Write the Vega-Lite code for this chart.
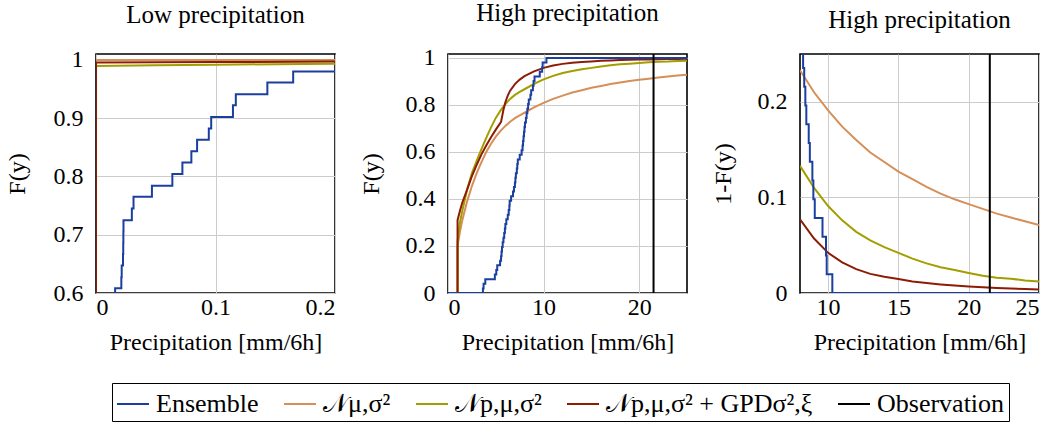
{
  "$schema": "https://vega.github.io/schema/vega-lite/v6.json",
  "padding": {"left": 4, "top": 0, "right": 0, "bottom": 0},
  "background": "white",
  "datasets": {
    "d": [
      {"p":"low","s":"ens","x":0,"y":0.588},{"p":"low","s":"ens","x":0.016,"y":0.608},{"p":"low","s":"ens","x":0.0212,"y":0.627},{"p":"low","s":"ens","x":0.0215,"y":0.647},{"p":"low","s":"ens","x":0.0226,"y":0.667},{"p":"low","s":"ens","x":0.0228,"y":0.686},{"p":"low","s":"ens","x":0.0229,"y":0.706},{"p":"low","s":"ens","x":0.023,"y":0.725},{"p":"low","s":"ens","x":0.030,"y":0.745},{"p":"low","s":"ens","x":0.0314,"y":0.765},{"p":"low","s":"ens","x":0.0468,"y":0.784},{"p":"low","s":"ens","x":0.0639,"y":0.804},{"p":"low","s":"ens","x":0.0723,"y":0.824},{"p":"low","s":"ens","x":0.0798,"y":0.843},{"p":"low","s":"ens","x":0.0846,"y":0.863},{"p":"low","s":"ens","x":0.0944,"y":0.882},{"p":"low","s":"ens","x":0.0964,"y":0.902},{"p":"low","s":"ens","x":0.1146,"y":0.922},{"p":"low","s":"ens","x":0.117,"y":0.941},{"p":"low","s":"ens","x":0.1434,"y":0.961},{"p":"low","s":"ens","x":0.165,"y":0.980},{"p":"low","s":"ens","x":0.2,"y":0.980},
      {"p":"low","s":"nmu","x":0,"y":0.5},{"p":"low","s":"nmu","x":0.00001,"y":0.9997},{"p":"low","s":"nmu","x":0.2,"y":0.9998},
      {"p":"low","s":"np","x":0,"y":0.5},{"p":"low","s":"np","x":0.00001,"y":0.9895},{"p":"low","s":"np","x":0.05,"y":0.9906},{"p":"low","s":"np","x":0.1,"y":0.9916},{"p":"low","s":"np","x":0.15,"y":0.9925},{"p":"low","s":"np","x":0.2,"y":0.9932},
      {"p":"low","s":"gpd","x":0,"y":0.5},{"p":"low","s":"gpd","x":0.00001,"y":0.9953},{"p":"low","s":"gpd","x":0.1,"y":0.9962},{"p":"low","s":"gpd","x":0.2,"y":0.997},

      {"p":"high","s":"ens","x":0,"y":0},{"p":"high","s":"ens","x":3.65,"y":0.0196},{"p":"high","s":"ens","x":3.72,"y":0.0392},{"p":"high","s":"ens","x":3.9,"y":0.0588},{"p":"high","s":"ens","x":4.9,"y":0.0784},{"p":"high","s":"ens","x":5.05,"y":0.098},{"p":"high","s":"ens","x":5.15,"y":0.1176},{"p":"high","s":"ens","x":5.45,"y":0.1373},{"p":"high","s":"ens","x":5.55,"y":0.1569},{"p":"high","s":"ens","x":5.6,"y":0.1765},{"p":"high","s":"ens","x":5.65,"y":0.1961},{"p":"high","s":"ens","x":5.72,"y":0.2157},{"p":"high","s":"ens","x":5.8,"y":0.2353},{"p":"high","s":"ens","x":5.88,"y":0.2549},{"p":"high","s":"ens","x":5.95,"y":0.2745},{"p":"high","s":"ens","x":6.0,"y":0.2941},{"p":"high","s":"ens","x":6.1,"y":0.3137},{"p":"high","s":"ens","x":6.25,"y":0.3333},{"p":"high","s":"ens","x":6.35,"y":0.3529},{"p":"high","s":"ens","x":6.42,"y":0.3725},{"p":"high","s":"ens","x":6.45,"y":0.3922},{"p":"high","s":"ens","x":6.6,"y":0.4118},{"p":"high","s":"ens","x":6.8,"y":0.4314},{"p":"high","s":"ens","x":6.9,"y":0.451},{"p":"high","s":"ens","x":7.0,"y":0.4706},{"p":"high","s":"ens","x":7.05,"y":0.4902},{"p":"high","s":"ens","x":7.1,"y":0.5098},{"p":"high","s":"ens","x":7.2,"y":0.5294},{"p":"high","s":"ens","x":7.25,"y":0.549},{"p":"high","s":"ens","x":7.3,"y":0.5686},{"p":"high","s":"ens","x":7.5,"y":0.5882},{"p":"high","s":"ens","x":7.7,"y":0.6078},{"p":"high","s":"ens","x":7.8,"y":0.6275},{"p":"high","s":"ens","x":7.85,"y":0.6471},{"p":"high","s":"ens","x":7.9,"y":0.6667},{"p":"high","s":"ens","x":7.95,"y":0.6863},{"p":"high","s":"ens","x":8.0,"y":0.7059},{"p":"high","s":"ens","x":8.05,"y":0.7255},{"p":"high","s":"ens","x":8.15,"y":0.7451},{"p":"high","s":"ens","x":8.22,"y":0.7647},{"p":"high","s":"ens","x":8.3,"y":0.7843},{"p":"high","s":"ens","x":8.38,"y":0.8039},{"p":"high","s":"ens","x":8.45,"y":0.8235},{"p":"high","s":"ens","x":8.62,"y":0.8431},{"p":"high","s":"ens","x":8.7,"y":0.8627},{"p":"high","s":"ens","x":8.88,"y":0.8824},{"p":"high","s":"ens","x":8.95,"y":0.902},{"p":"high","s":"ens","x":9.05,"y":0.9216},{"p":"high","s":"ens","x":9.6,"y":0.9412},{"p":"high","s":"ens","x":9.85,"y":0.9608},{"p":"high","s":"ens","x":9.9,"y":0.9804},{"p":"high","s":"ens","x":10.3,"y":1},{"p":"high","s":"ens","x":25,"y":1},

      {"p":"high","s":"nmu","x":0.999,"y":0},{"p":"high","s":"nmu","x":1,"y":0.2},{"p":"high","s":"nmu","x":1.25,"y":0.26},{"p":"high","s":"nmu","x":1.5,"y":0.31},{"p":"high","s":"nmu","x":2,"y":0.39},{"p":"high","s":"nmu","x":2.5,"y":0.455},{"p":"high","s":"nmu","x":3,"y":0.51},{"p":"high","s":"nmu","x":3.5,"y":0.557},{"p":"high","s":"nmu","x":4,"y":0.6},{"p":"high","s":"nmu","x":4.5,"y":0.635},{"p":"high","s":"nmu","x":5,"y":0.665},{"p":"high","s":"nmu","x":5.5,"y":0.69},{"p":"high","s":"nmu","x":6,"y":0.711},{"p":"high","s":"nmu","x":6.5,"y":0.729},{"p":"high","s":"nmu","x":7,"y":0.744},{"p":"high","s":"nmu","x":7.5,"y":0.756},{"p":"high","s":"nmu","x":8,"y":0.767},{"p":"high","s":"nmu","x":9,"y":0.79},{"p":"high","s":"nmu","x":10,"y":0.809},{"p":"high","s":"nmu","x":11,"y":0.826},{"p":"high","s":"nmu","x":12,"y":0.84},{"p":"high","s":"nmu","x":13,"y":0.853},{"p":"high","s":"nmu","x":14,"y":0.863},{"p":"high","s":"nmu","x":15,"y":0.873},{"p":"high","s":"nmu","x":16,"y":0.881},{"p":"high","s":"nmu","x":17,"y":0.889},{"p":"high","s":"nmu","x":18,"y":0.896},{"p":"high","s":"nmu","x":19,"y":0.902},{"p":"high","s":"nmu","x":20,"y":0.907},{"p":"high","s":"nmu","x":21,"y":0.912},{"p":"high","s":"nmu","x":22,"y":0.917},{"p":"high","s":"nmu","x":23,"y":0.921},{"p":"high","s":"nmu","x":24,"y":0.925},{"p":"high","s":"nmu","x":25,"y":0.929},

      {"p":"high","s":"np","x":0.999,"y":0},{"p":"high","s":"np","x":1,"y":0.22},{"p":"high","s":"np","x":1.25,"y":0.3},{"p":"high","s":"np","x":1.5,"y":0.35},{"p":"high","s":"np","x":2,"y":0.44},{"p":"high","s":"np","x":2.5,"y":0.51},{"p":"high","s":"np","x":3,"y":0.562},{"p":"high","s":"np","x":3.5,"y":0.612},{"p":"high","s":"np","x":4,"y":0.66},{"p":"high","s":"np","x":4.5,"y":0.705},{"p":"high","s":"np","x":5,"y":0.745},{"p":"high","s":"np","x":5.5,"y":0.777},{"p":"high","s":"np","x":6,"y":0.804},{"p":"high","s":"np","x":6.5,"y":0.826},{"p":"high","s":"np","x":7,"y":0.843},{"p":"high","s":"np","x":7.5,"y":0.856},{"p":"high","s":"np","x":8,"y":0.867},{"p":"high","s":"np","x":9,"y":0.89},{"p":"high","s":"np","x":10,"y":0.909},{"p":"high","s":"np","x":11,"y":0.924},{"p":"high","s":"np","x":12,"y":0.936},{"p":"high","s":"np","x":13,"y":0.945},{"p":"high","s":"np","x":14,"y":0.952},{"p":"high","s":"np","x":15,"y":0.958},{"p":"high","s":"np","x":16,"y":0.964},{"p":"high","s":"np","x":17,"y":0.969},{"p":"high","s":"np","x":18,"y":0.973},{"p":"high","s":"np","x":19,"y":0.976},{"p":"high","s":"np","x":20,"y":0.979},{"p":"high","s":"np","x":21,"y":0.982},{"p":"high","s":"np","x":22,"y":0.984},{"p":"high","s":"np","x":23,"y":0.985},{"p":"high","s":"np","x":24,"y":0.987},{"p":"high","s":"np","x":25,"y":0.988},

      {"p":"high","s":"gpd","x":0.999,"y":0},{"p":"high","s":"gpd","x":1,"y":0.31},{"p":"high","s":"gpd","x":1.25,"y":0.35},{"p":"high","s":"gpd","x":1.5,"y":0.385},{"p":"high","s":"gpd","x":2,"y":0.44},{"p":"high","s":"gpd","x":2.5,"y":0.497},{"p":"high","s":"gpd","x":3,"y":0.545},{"p":"high","s":"gpd","x":3.5,"y":0.59},{"p":"high","s":"gpd","x":4,"y":0.628},{"p":"high","s":"gpd","x":4.5,"y":0.663},{"p":"high","s":"gpd","x":5,"y":0.695},{"p":"high","s":"gpd","x":5.55,"y":0.728},{"p":"high","s":"gpd","x":5.8,"y":0.78},{"p":"high","s":"gpd","x":6,"y":0.812},{"p":"high","s":"gpd","x":6.25,"y":0.84},{"p":"high","s":"gpd","x":6.5,"y":0.861},{"p":"high","s":"gpd","x":7,"y":0.889},{"p":"high","s":"gpd","x":7.5,"y":0.908},{"p":"high","s":"gpd","x":8,"y":0.923},{"p":"high","s":"gpd","x":9,"y":0.943},{"p":"high","s":"gpd","x":10,"y":0.958},{"p":"high","s":"gpd","x":11,"y":0.968},{"p":"high","s":"gpd","x":12,"y":0.975},{"p":"high","s":"gpd","x":13,"y":0.98},{"p":"high","s":"gpd","x":14,"y":0.983},{"p":"high","s":"gpd","x":15,"y":0.9854},{"p":"high","s":"gpd","x":16,"y":0.988},{"p":"high","s":"gpd","x":17,"y":0.9895},{"p":"high","s":"gpd","x":18,"y":0.991},{"p":"high","s":"gpd","x":19,"y":0.9922},{"p":"high","s":"gpd","x":20,"y":0.9932},{"p":"high","s":"gpd","x":21,"y":0.994},{"p":"high","s":"gpd","x":22,"y":0.9947},{"p":"high","s":"gpd","x":23,"y":0.9953},{"p":"high","s":"gpd","x":24,"y":0.9959},{"p":"high","s":"gpd","x":25,"y":0.9964},
      {"p":"high","s":"obs","x":21.5},

      {"p":"tail","s":"ens","x":8.0,"y":0.2941},{"p":"tail","s":"ens","x":8.05,"y":0.2745},{"p":"tail","s":"ens","x":8.15,"y":0.2549},{"p":"tail","s":"ens","x":8.22,"y":0.2353},{"p":"tail","s":"ens","x":8.3,"y":0.2157},{"p":"tail","s":"ens","x":8.38,"y":0.1961},{"p":"tail","s":"ens","x":8.45,"y":0.1765},{"p":"tail","s":"ens","x":8.62,"y":0.1569},{"p":"tail","s":"ens","x":8.7,"y":0.1373},{"p":"tail","s":"ens","x":8.88,"y":0.1176},{"p":"tail","s":"ens","x":8.95,"y":0.098},{"p":"tail","s":"ens","x":9.05,"y":0.0784},{"p":"tail","s":"ens","x":9.6,"y":0.0588},{"p":"tail","s":"ens","x":9.85,"y":0.0392},{"p":"tail","s":"ens","x":9.9,"y":0.0196},{"p":"tail","s":"ens","x":10.3,"y":0},{"p":"tail","s":"ens","x":25,"y":0},

      {"p":"tail","s":"nmu","x":8,"y":0.233},{"p":"tail","s":"nmu","x":9,"y":0.21},{"p":"tail","s":"nmu","x":10,"y":0.191},{"p":"tail","s":"nmu","x":11,"y":0.174},{"p":"tail","s":"nmu","x":12,"y":0.16},{"p":"tail","s":"nmu","x":13,"y":0.147},{"p":"tail","s":"nmu","x":14,"y":0.137},{"p":"tail","s":"nmu","x":15,"y":0.127},{"p":"tail","s":"nmu","x":16,"y":0.119},{"p":"tail","s":"nmu","x":17,"y":0.111},{"p":"tail","s":"nmu","x":18,"y":0.104},{"p":"tail","s":"nmu","x":19,"y":0.098},{"p":"tail","s":"nmu","x":20,"y":0.093},{"p":"tail","s":"nmu","x":21,"y":0.088},{"p":"tail","s":"nmu","x":22,"y":0.083},{"p":"tail","s":"nmu","x":23,"y":0.079},{"p":"tail","s":"nmu","x":24,"y":0.075},{"p":"tail","s":"nmu","x":25,"y":0.071},

      {"p":"tail","s":"np","x":8,"y":0.133},{"p":"tail","s":"np","x":9,"y":0.11},{"p":"tail","s":"np","x":10,"y":0.091},{"p":"tail","s":"np","x":11,"y":0.076},{"p":"tail","s":"np","x":12,"y":0.064},{"p":"tail","s":"np","x":13,"y":0.055},{"p":"tail","s":"np","x":14,"y":0.048},{"p":"tail","s":"np","x":15,"y":0.042},{"p":"tail","s":"np","x":16,"y":0.036},{"p":"tail","s":"np","x":17,"y":0.031},{"p":"tail","s":"np","x":18,"y":0.027},{"p":"tail","s":"np","x":19,"y":0.024},{"p":"tail","s":"np","x":20,"y":0.021},{"p":"tail","s":"np","x":21,"y":0.018},{"p":"tail","s":"np","x":22,"y":0.016},{"p":"tail","s":"np","x":23,"y":0.015},{"p":"tail","s":"np","x":24,"y":0.013},{"p":"tail","s":"np","x":25,"y":0.012},

      {"p":"tail","s":"gpd","x":8,"y":0.077},{"p":"tail","s":"gpd","x":9,"y":0.057},{"p":"tail","s":"gpd","x":10,"y":0.042},{"p":"tail","s":"gpd","x":11,"y":0.032},{"p":"tail","s":"gpd","x":12,"y":0.025},{"p":"tail","s":"gpd","x":13,"y":0.02},{"p":"tail","s":"gpd","x":14,"y":0.017},{"p":"tail","s":"gpd","x":15,"y":0.0146},{"p":"tail","s":"gpd","x":16,"y":0.012},{"p":"tail","s":"gpd","x":17,"y":0.0105},{"p":"tail","s":"gpd","x":18,"y":0.009},{"p":"tail","s":"gpd","x":19,"y":0.0078},{"p":"tail","s":"gpd","x":20,"y":0.0068},{"p":"tail","s":"gpd","x":21,"y":0.006},{"p":"tail","s":"gpd","x":22,"y":0.0053},{"p":"tail","s":"gpd","x":23,"y":0.0047},{"p":"tail","s":"gpd","x":24,"y":0.0041},{"p":"tail","s":"gpd","x":25,"y":0.0036},
      {"p":"tail","s":"obs","x":21.5}
    ]
  },
  "data": {"name": "d"},
  "config": {
    "font": "Liberation Serif",
    "view": {"stroke": "black", "strokeWidth": 1.6},
    "axis": {"labelFont": "Liberation Serif", "titleFont": "Liberation Serif", "labelFontSize": 24, "titleFontSize": 24, "titleFontWeight": "normal", "labelColor": "black", "titleColor": "black", "domain": false, "ticks": false, "gridColor": "#cccccc", "gridWidth": 1},
    "axisY": {"labelPadding": 13, "titlePadding": 24},
    "axisX": {"labelPadding": 2, "titlePadding": 11},
    "title": {"font": "Liberation Serif", "fontSize": 25, "fontWeight": "normal", "color": "black", "offset": 20},
    "legend": {"strokeColor": "black"},
    "line": {"strokeWidth": 2},
    "rule": {"strokeWidth": 2}
  },
  "bounds": "flush",
  "spacing": 113,
  "hconcat": [
    {
      "width": 239, "height": 239,
      "title": {"text": "Low precipitation", "font": "Liberation Serif", "fontSize": 25, "fontWeight": "normal", "color": "black", "offset": 20},
      "transform": [{"filter": "datum.p === 'low'"}],
      "layer": [
        {
          "transform": [{"filter": "datum.s !== 'ens' && datum.s !== 'obs'"}],
          "mark": {"type": "line", "clip": true},
          "encoding": {
            "x": {"field": "x", "type": "quantitative", "scale": {"domain": [0, 0.2], "nice": false, "zero": false}, "axis": {"title": "Precipitation [mm/6h]", "values": [0, 0.1, 0.2], "format": "~g", "labelFont": "Liberation Serif", "titleFont": "Liberation Serif", "labelFontSize": 24, "titleFontSize": 24, "labelPadding": 2, "titlePadding": 11}},
            "y": {"field": "y", "type": "quantitative", "scale": {"domain": [0.6, 1.01], "nice": false, "zero": false}, "axis": {"title": "F(y)", "values": [0.6, 0.7, 0.8, 0.9, 1], "format": "~g", "labelFont": "Liberation Serif", "titleFont": "Liberation Serif", "labelFontSize": 24, "titleFontSize": 24, "labelPadding": 13, "titlePadding": 24}},
            "color": {"field": "s", "type": "nominal", "scale": {"domain": ["ens", "nmu", "np", "gpd", "obs"], "range": ["#1b3f9f", "#d58f58", "#a39e00", "#8c1d04", "#000000"]},
              "legend": {"title": null, "orient": "none", "legendX": 16, "legendY": 329, "direction": "horizontal", "padding": 4, "symbolType": "stroke", "symbolSize": 1024, "symbolStrokeWidth": 2, "labelFont": "Liberation Serif", "labelFontSize": 26, "labelColor": "black", "labelLimit": 0, "columnPadding": 21, "labelOffset": 6,
                "labelExpr": "datum.value === 'ens' ? 'Ensemble' : datum.value === 'nmu' ? '𝒩μ,σ²' : datum.value === 'np' ? '𝒩p,μ,σ²' : datum.value === 'gpd' ? '𝒩p,μ,σ² + GPDσ²,ξ' : 'Observation'"}}
          }
        },
        {
          "transform": [{"filter": "datum.s === 'ens'"}],
          "mark": {"type": "line", "interpolate": "step-after", "clip": true},
          "encoding": {
            "x": {"field": "x", "type": "quantitative"},
            "y": {"field": "y", "type": "quantitative"},
            "color": {"field": "s", "type": "nominal"}
          }
        }
      ]
    },
    {
      "width": 239, "height": 239,
      "title": {"text": "High precipitation", "font": "Liberation Serif", "fontSize": 25, "fontWeight": "normal", "color": "black", "offset": 20},
      "transform": [{"filter": "datum.p === 'high'"}],
      "layer": [
        {
          "transform": [{"filter": "datum.s !== 'ens' && datum.s !== 'obs'"}],
          "mark": {"type": "line", "clip": true},
          "encoding": {
            "x": {"field": "x", "type": "quantitative", "scale": {"domain": [0, 25], "nice": false, "zero": false}, "axis": {"title": "Precipitation [mm/6h]", "values": [0, 10, 20], "format": "~g", "labelFont": "Liberation Serif", "titleFont": "Liberation Serif", "labelFontSize": 24, "titleFontSize": 24, "labelPadding": 2, "titlePadding": 11}},
            "y": {"field": "y", "type": "quantitative", "scale": {"domain": [0, 1.017], "nice": false, "zero": false}, "axis": {"title": "F(y)", "values": [0, 0.2, 0.4, 0.6, 0.8, 1], "format": "~g", "labelFont": "Liberation Serif", "titleFont": "Liberation Serif", "labelFontSize": 24, "titleFontSize": 24, "labelPadding": 13, "titlePadding": 22}},
            "color": {"field": "s", "type": "nominal"}
          }
        },
        {
          "transform": [{"filter": "datum.s === 'ens'"}],
          "mark": {"type": "line", "interpolate": "step-after", "clip": true},
          "encoding": {
            "x": {"field": "x", "type": "quantitative"},
            "y": {"field": "y", "type": "quantitative"},
            "color": {"field": "s", "type": "nominal"}
          }
        },
        {
          "transform": [{"filter": "datum.s === 'obs'"}],
          "mark": {"type": "rule"},
          "encoding": {
            "x": {"field": "x", "type": "quantitative"},
            "color": {"field": "s", "type": "nominal"}
          }
        }
      ]
    },
    {
      "width": 239, "height": 239,
      "title": {"text": "High precipitation", "font": "Liberation Serif", "fontSize": 25, "fontWeight": "normal", "color": "black", "offset": 20},
      "transform": [{"filter": "datum.p === 'tail'"}],
      "layer": [
        {
          "transform": [{"filter": "datum.s !== 'ens' && datum.s !== 'obs'"}],
          "mark": {"type": "line", "clip": true},
          "encoding": {
            "x": {"field": "x", "type": "quantitative", "scale": {"domain": [8, 25], "nice": false, "zero": false}, "axis": {"title": "Precipitation [mm/6h]", "values": [10, 15, 20, 25], "format": "~g", "labelFont": "Liberation Serif", "titleFont": "Liberation Serif", "labelFontSize": 24, "titleFontSize": 24, "labelPadding": 2, "titlePadding": 11}},
            "y": {"field": "y", "type": "quantitative", "scale": {"domain": [0, 0.25], "nice": false, "zero": false}, "axis": {"title": "1-F(y)", "values": [0, 0.1, 0.2], "format": "~g", "labelFont": "Liberation Serif", "titleFont": "Liberation Serif", "labelFontSize": 24, "titleFontSize": 24, "labelPadding": 13, "titlePadding": 22}},
            "color": {"field": "s", "type": "nominal"}
          }
        },
        {
          "transform": [{"filter": "datum.s === 'ens'"}],
          "mark": {"type": "line", "interpolate": "step-after", "clip": true},
          "encoding": {
            "x": {"field": "x", "type": "quantitative"},
            "y": {"field": "y", "type": "quantitative"},
            "color": {"field": "s", "type": "nominal"}
          }
        },
        {
          "transform": [{"filter": "datum.s === 'obs'"}],
          "mark": {"type": "rule"},
          "encoding": {
            "x": {"field": "x", "type": "quantitative"},
            "color": {"field": "s", "type": "nominal"}
          }
        }
      ]
    }
  ]
}
